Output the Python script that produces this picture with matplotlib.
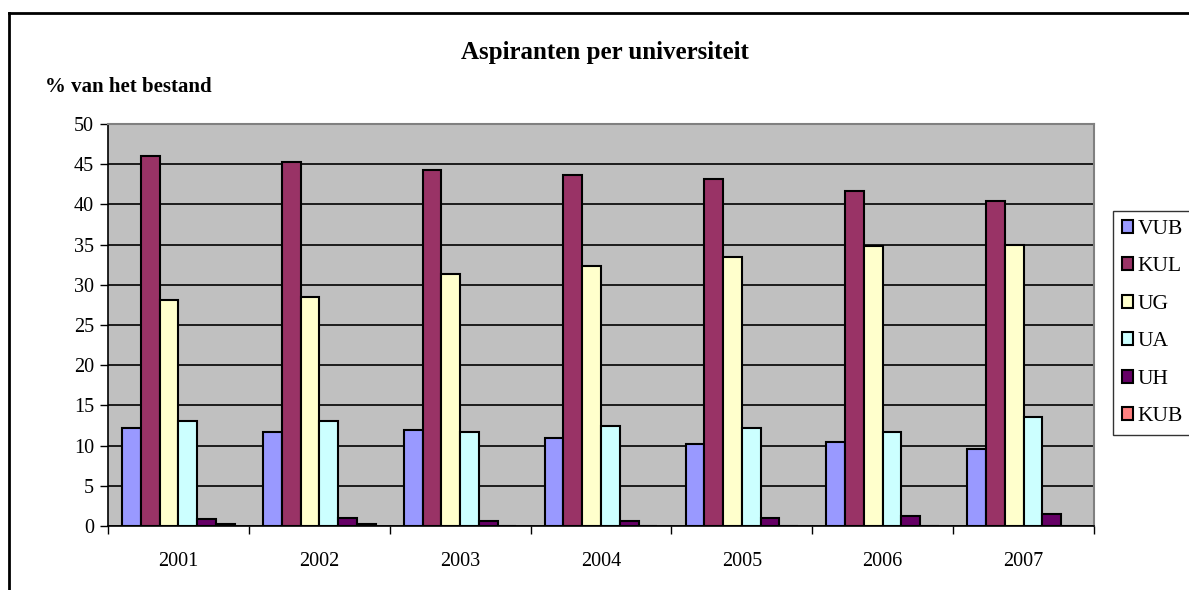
import matplotlib
matplotlib.use("Agg")
import matplotlib.pyplot as plt
from matplotlib.lines import Line2D
import numpy as np

years = ["2001", "2002", "2003", "2004", "2005", "2006", "2007"]
series_names = ["VUB", "KUL", "UG", "UA", "UH", "KUB"]
vub = [12.2, 11.7, 12.0, 10.9, 10.2, 10.4, 9.6]
kul = [46.0, 45.3, 44.3, 43.6, 43.2, 41.7, 40.4]
ug = [28.1, 28.5, 31.3, 32.4, 33.5, 34.8, 35.0]
ua = [13.0, 13.0, 11.7, 12.4, 12.2, 11.7, 13.5]
uh = [0.85, 1.05, 0.65, 0.65, 1.0, 1.2, 1.45]
kub = [0.2, 0.2, 0.0, 0.0, 0.0, 0.0, 0.0]
colors = ["#9999FF", "#993366", "#FFFFCC", "#CCFFFF", "#660066", "#FF8080"]

plt.rcParams['font.family'] = ['Liberation Serif', 'DejaVu Serif']

W, H = 1189, 590
fig = plt.figure(figsize=(W / 100, H / 100), dpi=100)
ax = fig.add_axes([108 / W, 1 - 526 / H, (1094 - 108) / W, (526 - 124) / H])
ax.set_facecolor("#C0C0C0")

data = [vub, kul, ug, ua, uh, kub]
n = len(series_names)
bw = 1 / 7.5
x = np.arange(len(years))
for i, (vals, c, name) in enumerate(zip(data, colors, series_names)):
    ax.bar(x + (i - (n - 1) / 2) * bw, vals, width=bw, color=c,
           edgecolor="black", linewidth=1.5, label=name, zorder=3)

ax.set_xlim(-0.5, len(years) - 0.5)
ax.set_ylim(0, 50)
ax.set_yticks(np.arange(0, 51, 5))
ax.yaxis.grid(True, color="black", linewidth=1.2, zorder=1)
ax.set_axisbelow(True)
ax.set_xticks(x)
ax.set_xticklabels(years)
ax.set_xticks(np.arange(-0.5, len(years)), minor=True)
ax.tick_params(axis="x", which="major", length=0, pad=19, labelsize=14.5)
ax.tick_params(axis="x", which="minor", length=6, width=1, direction="out")
ax.tick_params(axis="y", length=6, width=1, direction="out", labelsize=14.5, pad=4)

for s in ["top", "right"]:
    ax.spines[s].set_color("#808080")
    ax.spines[s].set_linewidth(1.5)
for s in ["left", "bottom"]:
    ax.spines[s].set_color("black")
    ax.spines[s].set_linewidth(1.2)

fig.text(605 / W, 1 - 52 / H, "Aspiranten per universiteit", ha="center", va="center",
         fontsize=18, fontweight="bold")
fig.text(45 / W, 1 - 87 / H, "% van het bestand", ha="left", va="center",
         fontsize=15, fontweight="bold")

leg = fig.legend(loc="center left", bbox_to_anchor=(1113 / W, 1 - 323 / H),
                 frameon=True, fancybox=False, edgecolor="black", fontsize=15.5,
                 handlelength=0.55, handleheight=0.55, handletextpad=0.2,
                 labelspacing=0.85, borderpad=0.4, borderaxespad=0)
leg.get_frame().set_linewidth(1.0)

# outer chart frame (left and top visible)
fig.add_artist(Line2D([9 / W, 9 / W], [0, 1 - 13 / H], transform=fig.transFigure,
                      color="black", linewidth=2))
fig.add_artist(Line2D([9 / W, 1], [1 - 13 / H, 1 - 13 / H], transform=fig.transFigure,
                      color="black", linewidth=2))

fig.savefig("out.png", dpi=100)
